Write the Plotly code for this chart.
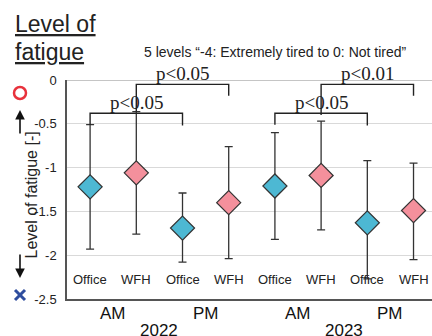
import plotly.graph_objects as go

# ---- data ----
categories = ["Office", "WFH", "Office", "WFH", "Office", "WFH", "Office", "WFH"]
periods = ["AM", "PM", "AM", "PM"]
years = ["2022", "2023"]
means = [-1.22, -1.06, -1.69, -1.40, -1.21, -1.09, -1.63, -1.49]
upper = [-0.51, -0.36, -1.29, -0.76, -0.60, -0.47, -0.92, -0.95]
lower = [-1.93, -1.76, -2.08, -2.04, -1.82, -1.71, -2.27, -2.05]
ytick_vals = [0, -0.5, -1, -1.5, -2, -2.5]
ytick_text = ["0", "-0.5", "-1", "-1.5", "-2", "-2.5"]
# significance brackets: (left idx, right idx, level, left end, right end, label)
brackets = [
    (0, 2, -0.38, -0.51, -0.52, "p<0.05"),
    (1, 3, -0.05, -0.36, -0.18, "p<0.05"),
    (4, 6, -0.38, -0.51, -0.52, "p<0.05"),
    (5, 7, -0.05, -0.40, -0.18, "p<0.01"),
]

BLUE = "#4db8d3"
PINK = "#f4909c"

W, H = 432, 336
L, R, T, B = 67, 0, 80, 37
PW, PH = W - L - R, H - T - B


def px(x):
    return (x - L) / PW


def py(y):
    return (H - B - y) / PH


xs = list(range(len(categories)))
colors = [BLUE if c == "Office" else PINK for c in categories]

fig = go.Figure()
fig.add_trace(go.Scatter(
    x=xs, y=means, mode="markers",
    marker=dict(symbol="diamond", size=18.5, color=colors,
                line=dict(color="#333333", width=1.2)),
    error_y=dict(type="data", symmetric=False,
                 array=[u - m for u, m in zip(upper, means)],
                 arrayminus=[m - l for m, l in zip(means, lower)],
                 color="#333333", thickness=1.3, width=4),
    showlegend=False, cliponaxis=False, hoverinfo="skip",
))

shapes = []
annotations = []

# brackets
for li, ri, lvl, lend, rend, lab in brackets:
    shapes.append(dict(type="path", xref="x", yref="y",
                       path=f"M {li},{lend} L {li},{lvl} L {ri},{lvl} L {ri},{rend}",
                       line=dict(color="#222222", width=1.4)))
    annotations.append(dict(x=(li + ri) / 2, y=lvl, xref="x", yref="y",
                            text=lab, showarrow=False, yanchor="bottom", yshift=-2,
                            font=dict(family="Liberation Serif", size=19, color="#222222")))

# top border line
shapes.append(dict(type="line", xref="paper", yref="y", x0=0, x1=1, y0=0, y1=0,
                   line=dict(color="#8c8c8c", width=1.2)))

# category labels inside plot
for x, c in zip(xs, categories):
    annotations.append(dict(x=x, y=py(289), xref="x", yref="paper", text=c,
                            showarrow=False, font=dict(family="Arial", size=13, color="#222222")))
# AM / PM
for i, p in enumerate(periods):
    annotations.append(dict(x=2 * i + 0.5, y=py(302), xref="x", yref="paper", text=p,
                            showarrow=False, yanchor="top",
                            font=dict(family="Arial", size=17, color="#111111")))
# years
for i, yv in enumerate(years):
    annotations.append(dict(x=4 * i + 1.5, y=py(319), xref="x", yref="paper", text=yv,
                            showarrow=False, yanchor="top",
                            font=dict(family="Arial", size=17, color="#111111")))

# title
annotations.append(dict(x=px(13), y=py(24), xref="paper", yref="paper", text="<u>Level of</u>",
                        showarrow=False, xanchor="left", yanchor="middle",
                        font=dict(family="Arial", size=23, color="#222222")))
annotations.append(dict(x=px(13), y=py(52), xref="paper", yref="paper", text="<u>fatigue</u>",
                        showarrow=False, xanchor="left", yanchor="middle",
                        font=dict(family="Arial", size=23, color="#222222")))
annotations.append(dict(x=px(275), y=py(42), xref="paper", yref="paper",
                        text="5 levels \u201c-4: Extremely tired to 0: Not tired\u201d",
                        showarrow=False, font=dict(family="Arial", size=14, color="#222222")))

# y axis title with arrows
annotations.append(dict(x=px(20), y=py(195), xref="paper", yref="paper",
                        text="Level of fatigue [-]", textangle=-90, showarrow=False,
                        font=dict(family="Arial", size=16, color="#222222")))
annotations.append(dict(x=px(20), y=py(110), xref="paper", yref="paper", text="",
                        showarrow=True, ax=0, ay=25, arrowhead=2, arrowsize=1.2,
                        arrowwidth=1.6, arrowcolor="#111111"))
annotations.append(dict(x=px(20), y=py(278), xref="paper", yref="paper", text="",
                        showarrow=True, ax=0, ay=-25, arrowhead=2, arrowsize=1.2,
                        arrowwidth=1.6, arrowcolor="#111111"))

# red circle and blue cross
shapes.append(dict(type="circle", xref="paper", yref="paper",
                   x0=px(14), x1=px(26), y0=py(87), y1=py(99),
                   line=dict(color="#e8323c", width=2.5)))
shapes.append(dict(type="line", xref="paper", yref="paper",
                   x0=px(15), x1=px(25), y0=py(290), y1=py(300),
                   line=dict(color="#2f4d9e", width=3)))
shapes.append(dict(type="line", xref="paper", yref="paper",
                   x0=px(15), x1=px(25), y0=py(300), y1=py(290),
                   line=dict(color="#2f4d9e", width=3)))

fig.update_layout(
    width=W, height=H,
    margin=dict(l=L, r=R, t=T, b=B),
    paper_bgcolor="white", plot_bgcolor="white",
    shapes=shapes, annotations=annotations,
    xaxis=dict(range=[-0.5, 7.4], showticklabels=False, showgrid=False, zeroline=False,
               showline=True, linecolor="#555555", linewidth=1.5, ticks=""),
    yaxis=dict(range=[-2.5, 0], tickvals=ytick_vals, ticktext=ytick_text,
               showgrid=True, gridcolor="#d9d9d9", gridwidth=1, zeroline=False,
               showline=True, linecolor="#555555", linewidth=1.5, ticks="",
               ticklabelstandoff=6,
               tickfont=dict(family="Arial", size=13, color="#222222")),
)

fig.write_html("out.html", config={"displayModeBar": False},
               post_script="document.body.style.margin='0';document.body.style.overflow='hidden';")
